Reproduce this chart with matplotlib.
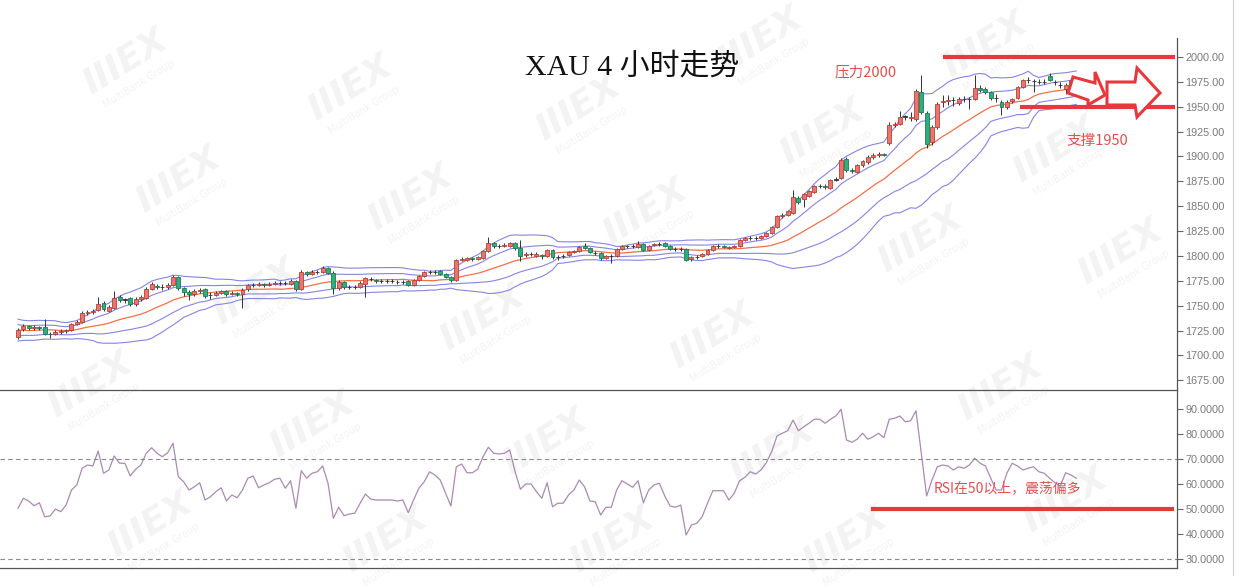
import numpy as np
import pandas as pd
import matplotlib
matplotlib.use('Agg')
import matplotlib.pyplot as plt
from matplotlib.patches import Polygon

# ---- data (XAU 4H) ----
opens = [
    1718, 1727, 1730, 1728, 1729, 1729, 1722, 1722, 1724, 1725,
    1726, 1732, 1734, 1743, 1744, 1746, 1753, 1745, 1748, 1759,
    1756, 1758, 1752, 1757, 1758, 1767, 1770, 1769, 1769, 1771,
    1779, 1768, 1764, 1762, 1765, 1767, 1761, 1761, 1763, 1765,
    1762, 1763, 1762, 1767, 1771, 1771, 1772, 1771, 1772, 1773,
    1773, 1772, 1775, 1767, 1784, 1782, 1784, 1784, 1788, 1783,
    1768, 1774, 1769, 1769, 1769, 1772, 1777, 1776, 1775, 1775,
    1775, 1774, 1774, 1775, 1771, 1776, 1780, 1784, 1784, 1785,
    1782, 1779, 1776, 1796, 1796, 1798, 1797, 1798, 1805, 1813,
    1810, 1810, 1810, 1813, 1808, 1801, 1802, 1800, 1801, 1800,
    1806, 1799, 1800, 1801, 1804, 1805, 1810, 1808, 1803, 1803,
    1798, 1800, 1800, 1807, 1810, 1810, 1809, 1812, 1806, 1811,
    1812, 1813, 1810, 1807, 1807, 1807, 1797, 1799, 1800, 1802,
    1806, 1810, 1810, 1808, 1809, 1810, 1816, 1818, 1818, 1818,
    1820, 1823, 1829, 1840, 1841, 1843, 1858, 1857, 1860, 1864,
    1870, 1870, 1868, 1877, 1878, 1897, 1886, 1884, 1891, 1894,
    1899, 1901, 1902, 1914, 1932, 1933, 1940, 1939, 1938, 1965,
    1944, 1915, 1930, 1955, 1956, 1957, 1954, 1958, 1958, 1958,
    1969, 1968, 1965, 1959, 1955, 1950, 1956, 1959, 1970, 1977,
    1976, 1975, 1975, 1981, 1975, 1972, 1968, 1968, 1977,
]
highs = [
    1728, 1732, 1731, 1731, 1730, 1737, 1724, 1726, 1727, 1727,
    1733, 1736, 1745, 1746, 1747, 1759, 1755, 1751, 1765, 1761,
    1758, 1759, 1759, 1761, 1769, 1774, 1772, 1772, 1773, 1781,
    1780, 1769, 1766, 1767, 1768, 1768, 1764, 1765, 1766, 1766,
    1765, 1764, 1768, 1772, 1773, 1774, 1773, 1774, 1775, 1775,
    1775, 1777, 1776, 1786, 1785, 1786, 1786, 1790, 1789, 1785,
    1776, 1775, 1771, 1771, 1775, 1779, 1779, 1777, 1777, 1777,
    1777, 1776, 1776, 1776, 1777, 1781, 1785, 1786, 1786, 1786,
    1783, 1780, 1797, 1799, 1799, 1799, 1800, 1806, 1819, 1814,
    1812, 1813, 1814, 1814, 1816, 1804, 1804, 1804, 1802, 1807,
    1807, 1801, 1802, 1805, 1806, 1810, 1813, 1809, 1805, 1804,
    1801, 1802, 1808, 1811, 1811, 1812, 1815, 1813, 1811, 1813,
    1814, 1814, 1811, 1809, 1809, 1808, 1800, 1801, 1803, 1807,
    1811, 1812, 1811, 1810, 1811, 1817, 1819, 1820, 1820, 1821,
    1824, 1830, 1841, 1843, 1846, 1866, 1860, 1863, 1866, 1871,
    1872, 1872, 1877, 1879, 1898, 1899, 1888, 1892, 1896, 1901,
    1903, 1904, 1903, 1935, 1935, 1946, 1942, 1945, 1968, 1982,
    1946, 1932, 1955, 1962, 1962, 1960, 1960, 1961, 1960, 1982,
    1972, 1970, 1966, 1963, 1957, 1957, 1959, 1971, 1978, 1980,
    1978, 1978, 1978, 1984, 1977, 1975, 1974, 1978, 1980,
]
lows = [
    1716, 1725, 1726, 1726, 1726, 1720, 1717, 1720, 1722, 1723,
    1725, 1731, 1733, 1741, 1742, 1745, 1745, 1744, 1747, 1754,
    1753, 1750, 1750, 1755, 1757, 1766, 1767, 1766, 1767, 1770,
    1766, 1760, 1756, 1760, 1763, 1758, 1757, 1760, 1762, 1760,
    1761, 1760, 1748, 1765, 1769, 1770, 1769, 1770, 1771, 1771,
    1771, 1771, 1765, 1766, 1780, 1781, 1782, 1783, 1782, 1762,
    1766, 1767, 1767, 1767, 1768, 1759, 1775, 1773, 1773, 1773,
    1773, 1772, 1772, 1770, 1770, 1775, 1779, 1782, 1782, 1781,
    1778, 1774, 1775, 1795, 1795, 1795, 1796, 1797, 1804, 1808,
    1808, 1809, 1809, 1806, 1795, 1799, 1800, 1799, 1797, 1799,
    1797, 1796, 1798, 1800, 1803, 1804, 1807, 1803, 1801, 1796,
    1797, 1793, 1799, 1806, 1808, 1808, 1808, 1805, 1805, 1810,
    1810, 1809, 1806, 1805, 1805, 1795, 1795, 1797, 1799, 1801,
    1805, 1808, 1808, 1807, 1808, 1809, 1815, 1816, 1816, 1817,
    1819, 1822, 1828, 1838, 1840, 1842, 1852, 1849, 1859, 1863,
    1868, 1867, 1867, 1875, 1877, 1884, 1883, 1883, 1889, 1892,
    1897, 1899, 1900, 1912, 1930, 1932, 1937, 1936, 1936, 1943,
    1909, 1912, 1928, 1950, 1952, 1951, 1952, 1955, 1948, 1957,
    1965, 1963, 1957, 1955, 1942, 1948, 1954, 1958, 1969, 1974,
    1965, 1973, 1973, 1976, 1972, 1969, 1963, 1966, 1975,
]
closes = [
    1726, 1730, 1728, 1729, 1728, 1722, 1721, 1724, 1725, 1726,
    1732, 1734, 1743, 1744, 1745, 1752, 1747, 1749, 1758, 1756,
    1756, 1752, 1757, 1759, 1767, 1772, 1769, 1769, 1771, 1779,
    1768, 1764, 1762, 1765, 1766, 1760, 1761, 1763, 1765, 1762,
    1763, 1762, 1766, 1771, 1771, 1772, 1771, 1772, 1773, 1773,
    1773, 1775, 1767, 1784, 1782, 1784, 1784, 1788, 1783, 1768,
    1774, 1769, 1769, 1769, 1773, 1778, 1777, 1775, 1775, 1775,
    1775, 1774, 1774, 1771, 1776, 1780, 1784, 1784, 1784, 1782,
    1779, 1776, 1796, 1797, 1798, 1797, 1799, 1805, 1813, 1810,
    1810, 1811, 1813, 1808, 1800, 1802, 1802, 1802, 1800, 1806,
    1799, 1799, 1800, 1804, 1805, 1809, 1808, 1804, 1803, 1798,
    1800, 1800, 1807, 1810, 1810, 1810, 1812, 1806, 1810, 1812,
    1812, 1810, 1807, 1807, 1807, 1796, 1799, 1799, 1802, 1806,
    1810, 1810, 1809, 1809, 1810, 1816, 1818, 1818, 1818, 1820,
    1823, 1829, 1840, 1841, 1845, 1859, 1854, 1862, 1865, 1870,
    1870, 1869, 1876, 1877, 1896, 1886, 1885, 1891, 1895, 1899,
    1901, 1902, 1901, 1932, 1933, 1940, 1940, 1940, 1966, 1945,
    1913, 1930, 1953, 1956, 1957, 1957, 1958, 1958, 1958, 1969,
    1967, 1965, 1959, 1959, 1950, 1955, 1958, 1970, 1977, 1977,
    1976, 1975, 1975, 1977, 1975, 1972, 1972, 1977, 1978,
]
# closes before the first visible bar, only used to seed the bands
warmup = [1732, 1736, 1731, 1727, 1720, 1718, 1722, 1728, 1734, 1730,
          1725, 1719, 1716, 1721, 1727, 1733, 1729, 1724, 1720, 1723]

rsi = [
    50.3, 54.3, 53.2, 51.3, 52.5, 46.9, 47.2, 50.0, 48.9, 51.6,
    57.6, 59.6, 66.3, 67.6, 67.2, 73.2, 64.3, 65.6, 71.2, 68.3,
    68.3, 63.2, 65.9, 67.6, 72.3, 74.5, 72.3, 70.9, 72.5, 76.3,
    62.9, 60.9, 57.6, 58.9, 60.5, 53.6, 54.9, 56.9, 58.5, 53.2,
    55.6, 54.5, 57.6, 62.3, 63.2, 58.5, 59.6, 60.5, 61.9, 62.3,
    58.3, 61.3, 50.3, 65.3, 62.3, 64.3, 64.9, 67.2, 60.3, 46.3,
    50.7, 47.3, 48.0, 48.3, 52.3, 56.0, 53.9, 53.6, 53.6, 53.6,
    53.6, 53.2, 53.6, 48.5, 53.6, 58.3,
    60.9, 64.9, 63.6, 61.6, 56.3, 51.2, 66.9, 68.0, 64.5, 64.5,
    65.9, 70.9, 74.7, 72.3, 72.0, 72.3, 73.6, 64.9, 57.9, 60.0,
    60.0, 56.9, 54.3, 60.5, 50.9, 52.3, 52.3, 55.6, 57.6, 61.6,
    58.9, 53.2, 52.9, 47.6, 50.7, 50.7, 57.6, 61.3, 60.0, 58.7,
    61.3, 52.5, 57.6, 59.6, 60.3, 55.2, 51.2, 50.7, 51.6, 39.6,
    43.6, 44.3, 46.9, 52.3, 57.3, 57.3, 57.3, 53.6, 56.3, 61.3,
    62.7, 64.9, 64.0, 65.6, 68.5, 72.9, 79.2, 80.3, 81.3, 85.6,
    81.3, 82.9, 84.3, 85.9, 85.9, 84.3,
    85.9, 87.2, 89.9, 77.6, 76.7, 77.9, 80.3, 77.9, 78.9, 80.3,
    78.5, 85.9, 86.3, 87.2, 84.9, 85.3, 89.3, 72.3, 55.2, 61.6,
    66.9, 67.6, 67.2, 65.6, 66.9, 66.3, 67.6, 70.3, 68.3, 67.2,
    62.3, 57.6, 57.6, 64.3, 68.3, 67.2, 65.6, 66.3, 66.9, 64.9,
    64.3, 62.3, 60.5, 59.2, 64.5, 63.6, 62.3,
]

price_ticks = [1675, 1700, 1725, 1750, 1775, 1800, 1825, 1850, 1875,
               1900, 1925, 1950, 1975, 2000]
rsi_ticks = [30, 40, 50, 60, 70, 80, 90]
resistance = 2000
support = 1950

W, H = 1237, 587
fig = plt.figure(figsize=(W / 100, H / 100), dpi=100)
fig.patch.set_facecolor('white')

def fx(px):
    return px / W

def fy(py):
    return 1 - py / H

# faint broker watermark, tiled behind the chart
wm_spots = [(125, 62), (350, 88), (578, 108), (760, 40), (985, 45),
            (178, 180), (410, 198), (645, 212), (822, 132), (1055, 150),
            (255, 292), (482, 318), (712, 336), (920, 240), (1120, 252),
            (90, 385), (312, 425), (545, 442), (772, 452), (1000, 388),
            (150, 525), (385, 540), (612, 540), (845, 540), (1065, 500)]
for wx, wy in wm_spots:
    fig.text(fx(wx), fy(wy), 'IIIEX', ha='center', va='center', fontsize=26,
             fontweight='bold', style='italic', color='#f3f3f3', rotation=32,
             family='DejaVu Sans', zorder=-5)
    fig.text(fx(wx + 14), fy(wy + 22), 'MultiBank Group', ha='center', va='center',
             fontsize=7, color='#f3f3f3', rotation=32, family='DejaVu Sans', zorder=-5)

ax1 = fig.add_axes([0, fy(390), fx(1177), (390 - 38) / H])
ax2 = fig.add_axes([0, fy(568), fx(1177), (568 - 390) / H])

n = len(closes)
x = np.arange(n)
o = np.array(opens, float)
c = np.array(closes, float)
hi = np.array(highs, float)
lo = np.array(lows, float)

# bollinger bands from the closes
s = pd.Series(warmup + closes, dtype=float)
mid = s.rolling(20).mean().to_numpy()[-n:]
sd = s.rolling(20).std(ddof=0).to_numpy()[-n:]

band_col = '#8585e0'
ax1.plot(x, mid + 2 * sd, color=band_col, lw=0.8, zorder=1)
ax1.plot(x, mid - 2 * sd, color=band_col, lw=0.8, zorder=1)
ax1.plot(x, mid + sd, color=band_col, lw=0.8, zorder=1)
ax1.plot(x, mid - sd, color=band_col, lw=0.8, zorder=1)
ax1.plot(x, mid, color='#f0704c', lw=0.9, zorder=1)

# candles
ax1.vlines(x, lo, hi, color='#333333', lw=0.7, zorder=2)
up = c >= o
body = np.abs(c - o)
doji = body < 1
bot = np.minimum(o, c)
fill = np.where(up, '#e8766e', '#2eae7c')
edge = np.where(up, '#b5403a', '#1f7a56')
fill = np.where(doji, '#333333', fill)
edge = np.where(doji, '#333333', edge)
ax1.bar(x, np.where(doji, 0.4, body), bottom=np.where(doji, c - 0.2, bot),
        width=0.74, color=fill, edgecolor=edge, linewidth=0.6, zorder=3)

xlim = (-18 / 5.345, (1177 - 18) / 5.345)
ax1.set_xlim(*xlim)
ax1.set_ylim(1665.2, 2019.1)

# rsi panel
ax2.plot(np.arange(len(rsi)), rsi, color='#a98bb0', lw=0.9)
for lvl in (70, 30):
    ax2.axhline(lvl, color='#8a8a8a', lw=0.8, ls=(0, (4, 3)))
ax2.set_xlim(*xlim)
ax2.set_ylim(26.4, 97.6)

for ax, ticks, fmt in ((ax1, price_ticks, '{:.2f}'), (ax2, rsi_ticks, '{:.4f}')):
    ax.set_facecolor('none')
    for sp in ('left', 'top'):
        ax.spines[sp].set_visible(False)
    ax.spines['right'].set_color('#555555')
    ax.spines['bottom'].set_color('#555555')
    ax.spines['right'].set_linewidth(0.9)
    ax.spines['bottom'].set_linewidth(0.9)
    ax.yaxis.tick_right()
    ax.set_yticks(ticks)
    ax.set_yticklabels([fmt.format(t) for t in ticks])
    ax.tick_params(axis='y', direction='out', length=4, width=0.8, color='#666666',
                   labelcolor='#7a7a7a', labelsize=7.8, pad=2)
    for lab in ax.get_yticklabels():
        lab.set_family('Liberation Sans')
    ax.set_xticks([])

# right frame edge of the screenshot
fig.add_artist(plt.Line2D([fx(1233), fx(1233)], [fy(0), fy(575)], color='#d0d0d0',
                          lw=0.8, transform=fig.transFigure))

# annotations
red = '#e8383d'
ax1.axhline(resistance, xmin=945 / 1177, xmax=1173 / 1177, color=red, lw=3, zorder=4)
ax1.axhline(support, xmin=1022 / 1177, xmax=1173 / 1177, color=red, lw=3, zorder=4)
ax2.axhline(50, xmin=873 / 1177, xmax=1172 / 1177, color=red, lw=3, zorder=4)

cjk = ['Noto Sans CJK SC', 'DejaVu Sans']
fig.text(fx(632), fy(67), 'XAU 4 小时走势', ha='center', va='center', fontsize=21.5,
         family=['Liberation Serif', 'Noto Sans CJK SC'], color='#111111')
fig.text(fx(866), fy(72), '压力2000', ha='center', va='center', fontsize=10.5,
         family=cjk, color='#e05050')
fig.text(fx(1097), fy(141), '支撑1950', ha='center', va='center', fontsize=10.5,
         family=cjk, color='#e05050')
fig.text(fx(1007), fy(488), 'RSI在50以上，震荡偏多', ha='center', va='center',
         fontsize=10, family=cjk, color='#e05050')

arrow1 = [(1073, 77), (1095, 83), (1095, 72), (1105, 95), (1088, 105), (1088, 100), (1068, 93)]
arrow2 = [(1107, 82), (1135, 82), (1137, 68), (1160, 93), (1137, 117), (1135, 105), (1107, 105)]
for pts in (arrow1, arrow2):
    fig.add_artist(Polygon([(fx(a), fy(b)) for a, b in pts], closed=True,
                           transform=fig.transFigure, facecolor='white',
                           edgecolor=red, lw=2.2, zorder=10))

fig.savefig('out.png', dpi=100)
